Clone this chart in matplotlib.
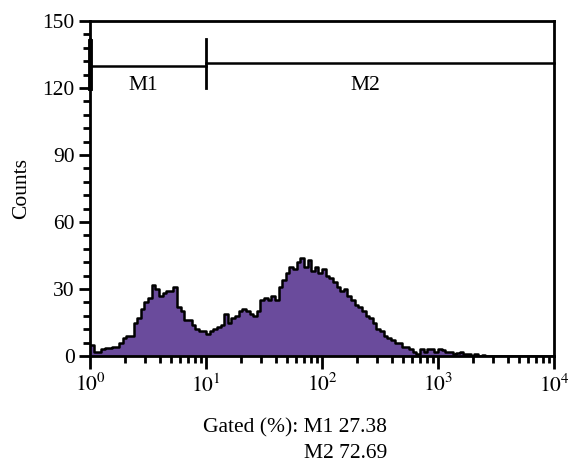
import numpy as np
import matplotlib
matplotlib.use("Agg")
import matplotlib.pyplot as plt
from matplotlib.ticker import FixedLocator, NullFormatter, MultipleLocator

plt.rcParams['font.family'] = ['Liberation Serif', 'DejaVu Serif']
plt.rcParams['mathtext.fontset'] = 'stix'

# Histogram: 128 log-spaced channels from 10^0 to 10^4
log_min, log_max = 0.0, 4.0
counts = [
    5, 2, 2, 3, 3.5, 3.5, 4, 4, 6, 8, 9, 9, 15, 17, 21, 24,
    26, 32, 30, 27, 28, 29, 29, 31, 22, 20, 16, 16, 14, 12, 11, 11,
    10, 11, 12, 13, 14, 19, 15, 17, 18, 20, 21, 20, 19, 18, 20, 25,
    26, 25, 27, 25, 31, 34, 37, 40, 39, 42, 44, 40, 43, 38, 40, 37,
    39, 36, 35, 33, 31, 29, 30, 27, 25, 23, 22, 20, 18, 17, 15, 12,
    11, 9, 8, 7, 6, 6, 4, 4, 3, 2, 1, 3, 2, 3, 3, 2,
    3, 2.5, 2, 2, 1, 1.5, 2, 1, 1, 0, 1, 0, 0.5, 0, 0, 0,
    0, 0, 0, 0, 0, 0, 0, 0, 0, 0, 0, 0, 0, 0, 0, 0,
]
y_ticks = [0, 30, 60, 90, 120, 150]
x_ticks = [1, 10, 100, 1000, 10000]
x_tick_labels = ['$10^{0}$', '$10^{1}$', '$10^{2}$', '$10^{3}$', '$10^{4}$']
markers = {'M1': (1, 10, 130), 'M2': (10, 10000, 131.3)}
marker_label_x = {'M1': 2.9, 'M2': 235}
gated = {'M1': 27.38, 'M2': 72.69}

edges = np.logspace(log_min, log_max, len(counts) + 1)
vals = np.array(counts, dtype=float)

fig = plt.figure(figsize=(5.68, 4.61), dpi=100)
ax = fig.add_axes([90/568, 1-356/461, (554-90)/568, (356-21)/461])

fill_color = '#6a4b9c'
yy = np.append(vals, vals[-1])
ax.fill_between(edges, 0, yy, step='post', color=fill_color, lw=0, zorder=2)
ax.step(edges, yy, where='post', color='black', lw=1.8, zorder=3)

ax.set_xscale('log')
ax.set_xlim(1, 10000)
ax.set_ylim(0, 150)

ax.xaxis.set_major_locator(FixedLocator(x_ticks))
ax.set_xticklabels(x_tick_labels)
minor = [m * 10**d for d in range(4) for m in range(2, 10)]
ax.xaxis.set_minor_locator(FixedLocator(minor))
ax.xaxis.set_minor_formatter(NullFormatter())
ax.yaxis.set_major_locator(FixedLocator(y_ticks))
ax.yaxis.set_minor_locator(MultipleLocator(6))

ax.tick_params(axis='y', which='major', direction='out', length=8, width=2,
               labelsize=15.5, pad=3)
ax.tick_params(axis='x', which='major', direction='out', length=9, width=2,
               labelsize=15.5, pad=4)
ax.tick_params(axis='both', which='minor', direction='out', length=5, width=2)
ax.tick_params(top=False, right=False, which='both')
for s in ax.spines.values():
    s.set_linewidth(2)
    s.set_zorder(5)

# markers
for name, (x0, x1, yv) in markers.items():
    ax.plot([x0, x1], [yv, yv], color='black', lw=1.8, zorder=4, clip_on=False)
    ax.plot([x0, x0], [120, 142], color='black', lw=2, zorder=4, clip_on=False)
    ax.text(marker_label_x[name], 121.3, name, ha='center', va='center', fontsize=15.5)
ax.plot([1, 1], [120, 141], color='black', lw=3.5, zorder=6, clip_on=False)

ax.set_ylabel('Counts', fontsize=15.5, labelpad=8)

fig.text(387/568, 1-428/461, 'Gated (%%): M1 %.2f' % gated['M1'], ha='right', va='center', fontsize=15.5)
fig.text(387/568, 1-453/461, 'M2 %.2f' % gated['M2'], ha='right', va='center', fontsize=15.5)

fig.savefig('out.png', dpi=100)
